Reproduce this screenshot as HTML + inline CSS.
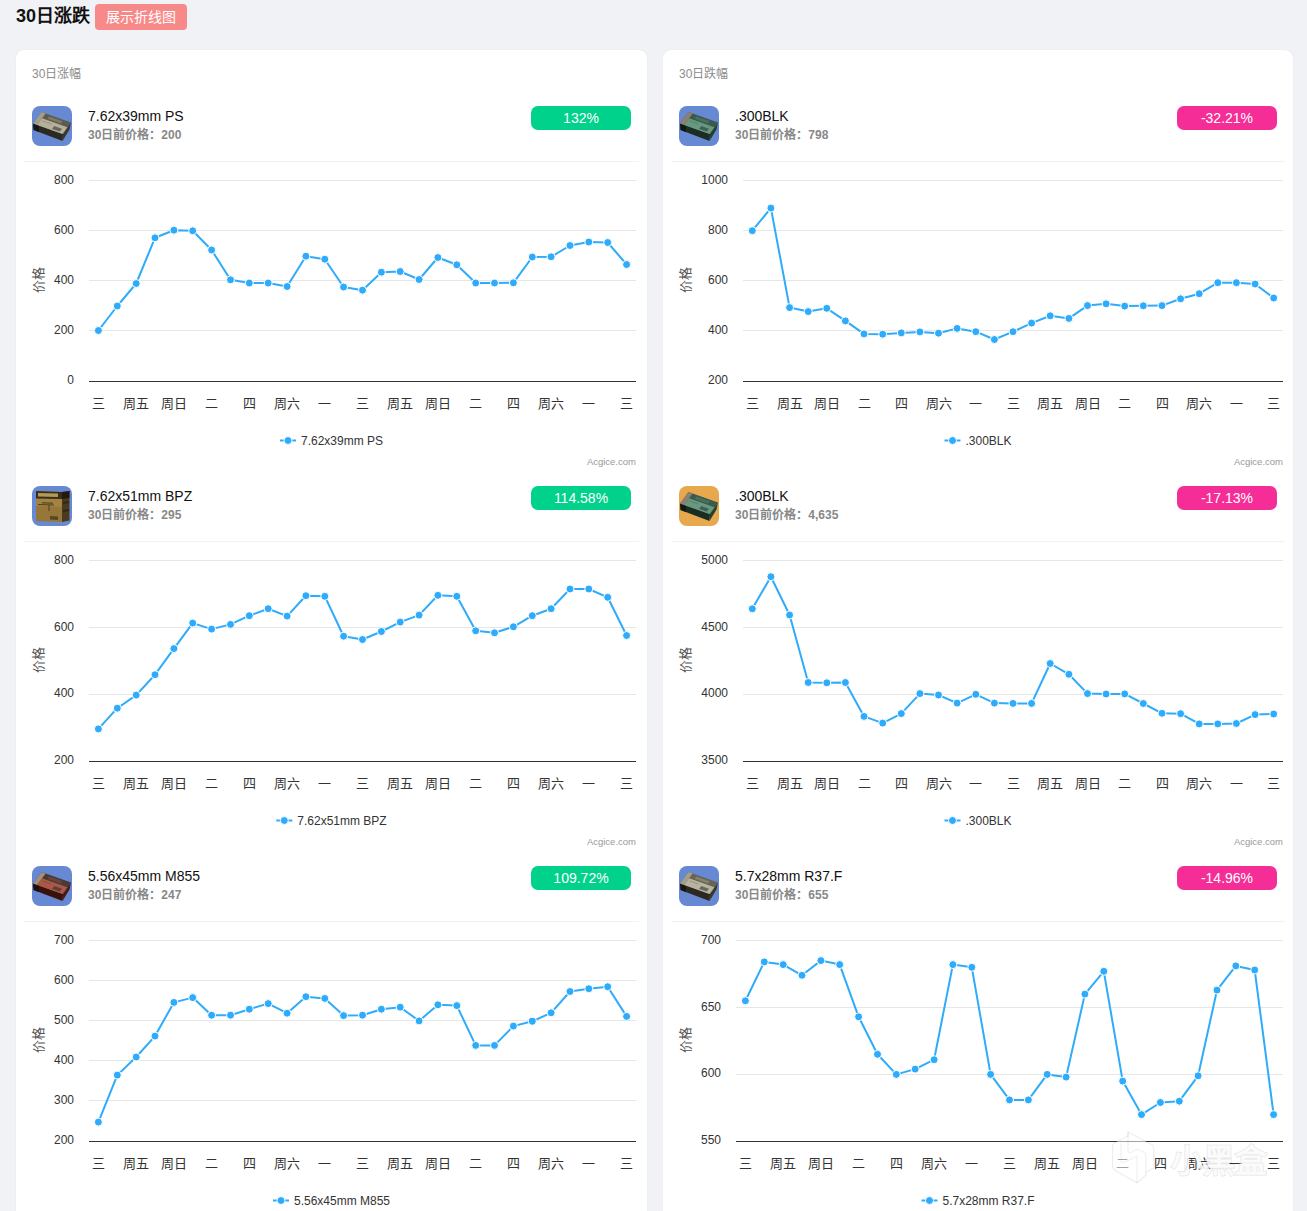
<!DOCTYPE html>
<html lang="zh-CN"><head><meta charset="utf-8">
<style>
*{margin:0;padding:0;box-sizing:border-box}
html,body{width:1307px;height:1211px;overflow:hidden;background:#f0f2f5;font-family:"Liberation Sans", sans-serif}
.t{position:absolute;white-space:nowrap;line-height:1}
.card{position:absolute;top:50px;height:1300px;background:#fff;border-radius:8px;box-shadow:0 0 1px rgba(0,0,0,0.12)}
svg{position:absolute;left:0;top:0;overflow:visible}
</style></head><body>
<div class="t" style="left:16px;top:7px;font-size:18px;font-weight:bold;color:#111">30日涨跌</div>
<div style="position:absolute;left:95px;top:4px;width:92px;height:26px;border-radius:4px;background:#f78989;color:#fff;font-size:14px;line-height:26px;text-align:center">展示折线图</div>

<div class="card" style="left:16px;width:631px"></div>
<div class="t" style="left:32px;top:68px;font-size:12px;color:#8c8c8c">30日涨幅</div>
<div class="card" style="left:663px;width:630px"></div>
<div class="t" style="left:679px;top:68px;font-size:12px;color:#8c8c8c">30日跌幅</div>
<svg width="1307" height="1211" viewBox="0 0 1307 1211" style="font-family:'Liberation Sans', sans-serif">
<g transform="translate(32,106)"><rect x="0" y="0" width="40" height="40" rx="8" fill="#6789d3"/><path d="M9.5 6 L39 16.5 L31 28 L1 17.5 Z" fill="#5e5b4c"/><path d="M1 17.5 L31 28 L30.5 35 L1.5 24 Z" fill="#2c2a20"/><path d="M1 17.5 L7 19.6 L7 26.2 L1.5 24 Z" fill="#0e0c08" opacity="0.6"/><path d="M39 16.5 L31 28 L30.5 35 L37.5 23.5 Z" fill="#3a372b"/><path d="M9.5 6.0 L13.6 7.5 L5.1 19.0 L1.0 17.5 Z" fill="#a9a690" opacity="0.9"/><path d="M10.1 12.3 L35.4 21.3 L30.5 28.0 L5.1 19.0 Z" fill="#b9b4a0" opacity="0.95"/><path d="M17.3 10.5 L30.6 15.3 L28.9 17.6 L15.6 12.8 Z" fill="#b9b4a0" opacity="0.35"/><path d="M22.2 20.1 L29.9 22.8 L27.8 25.6 L20.1 22.9 Z" fill="#4a473a" opacity="0.7"/><path d="M10.7 14.4 L19.6 17.6 L19.0 18.4 L10.1 15.2 Z" fill="#4a473a" opacity="0.25"/></g>
<rect x="24" y="161" width="615" height="1" fill="#f2f2f2"/>
<rect x="531" y="106" width="100" height="24" rx="7" fill="#00d18b"/>
<text x="581" y="123" font-size="14" fill="#fff" text-anchor="middle">132%</text>
<text x="88" y="120.5" font-size="14" fill="#111">7.62x39mm PS</text>
<text x="88" y="139" font-size="12" font-weight="bold" fill="#888">30日前价格：200</text>
<rect x="89" y="180" width="547" height="1" fill="#e6e6e6"/>
<rect x="89" y="230" width="547" height="1" fill="#e6e6e6"/>
<rect x="89" y="280" width="547" height="1" fill="#e6e6e6"/>
<rect x="89" y="330" width="547" height="1" fill="#e6e6e6"/>
<rect x="89" y="381" width="547" height="1" fill="#333"/>
<text x="74" y="383.8" font-size="12" fill="#333" text-anchor="end">0</text>
<text x="74" y="333.8" font-size="12" fill="#333" text-anchor="end">200</text>
<text x="74" y="283.8" font-size="12" fill="#333" text-anchor="end">400</text>
<text x="74" y="233.8" font-size="12" fill="#333" text-anchor="end">600</text>
<text x="74" y="183.8" font-size="12" fill="#333" text-anchor="end">800</text>
<text x="98.4" y="407.5" font-size="13" fill="#333" text-anchor="middle">三</text>
<text x="136.2" y="407.5" font-size="13" fill="#333" text-anchor="middle">周五</text>
<text x="173.9" y="407.5" font-size="13" fill="#333" text-anchor="middle">周日</text>
<text x="211.6" y="407.5" font-size="13" fill="#333" text-anchor="middle">二</text>
<text x="249.3" y="407.5" font-size="13" fill="#333" text-anchor="middle">四</text>
<text x="287.1" y="407.5" font-size="13" fill="#333" text-anchor="middle">周六</text>
<text x="324.8" y="407.5" font-size="13" fill="#333" text-anchor="middle">一</text>
<text x="362.5" y="407.5" font-size="13" fill="#333" text-anchor="middle">三</text>
<text x="400.2" y="407.5" font-size="13" fill="#333" text-anchor="middle">周五</text>
<text x="437.9" y="407.5" font-size="13" fill="#333" text-anchor="middle">周日</text>
<text x="475.7" y="407.5" font-size="13" fill="#333" text-anchor="middle">二</text>
<text x="513.4" y="407.5" font-size="13" fill="#333" text-anchor="middle">四</text>
<text x="551.1" y="407.5" font-size="13" fill="#333" text-anchor="middle">周六</text>
<text x="588.8" y="407.5" font-size="13" fill="#333" text-anchor="middle">一</text>
<text x="626.6" y="407.5" font-size="13" fill="#333" text-anchor="middle">三</text>
<text x="0" y="0" font-size="13" fill="#555" text-anchor="middle" transform="translate(42.8,280) rotate(-90)">价格</text>
<polyline fill="none" stroke="#2eabfb" stroke-width="2" stroke-linejoin="round" points="98.4,330.5 117.3,306.0 136.2,283.5 155.0,237.8 173.9,230.2 192.7,230.8 211.6,250.0 230.5,279.8 249.3,283.0 268.2,283.0 287.1,286.5 305.9,256.2 324.8,259.2 343.6,287.0 362.5,290.2 381.4,272.2 400.2,271.5 419.1,279.5 437.9,257.5 456.8,264.8 475.7,283.0 494.5,283.0 513.4,282.8 532.3,257.0 551.1,256.8 570.0,245.5 588.8,242.0 607.7,242.5 626.6,264.5"/>
<circle cx="98.4" cy="330.5" r="4" fill="#2eabfb" stroke="#fff" stroke-width="1"/>
<circle cx="117.3" cy="306.0" r="4" fill="#2eabfb" stroke="#fff" stroke-width="1"/>
<circle cx="136.2" cy="283.5" r="4" fill="#2eabfb" stroke="#fff" stroke-width="1"/>
<circle cx="155.0" cy="237.8" r="4" fill="#2eabfb" stroke="#fff" stroke-width="1"/>
<circle cx="173.9" cy="230.2" r="4" fill="#2eabfb" stroke="#fff" stroke-width="1"/>
<circle cx="192.7" cy="230.8" r="4" fill="#2eabfb" stroke="#fff" stroke-width="1"/>
<circle cx="211.6" cy="250.0" r="4" fill="#2eabfb" stroke="#fff" stroke-width="1"/>
<circle cx="230.5" cy="279.8" r="4" fill="#2eabfb" stroke="#fff" stroke-width="1"/>
<circle cx="249.3" cy="283.0" r="4" fill="#2eabfb" stroke="#fff" stroke-width="1"/>
<circle cx="268.2" cy="283.0" r="4" fill="#2eabfb" stroke="#fff" stroke-width="1"/>
<circle cx="287.1" cy="286.5" r="4" fill="#2eabfb" stroke="#fff" stroke-width="1"/>
<circle cx="305.9" cy="256.2" r="4" fill="#2eabfb" stroke="#fff" stroke-width="1"/>
<circle cx="324.8" cy="259.2" r="4" fill="#2eabfb" stroke="#fff" stroke-width="1"/>
<circle cx="343.6" cy="287.0" r="4" fill="#2eabfb" stroke="#fff" stroke-width="1"/>
<circle cx="362.5" cy="290.2" r="4" fill="#2eabfb" stroke="#fff" stroke-width="1"/>
<circle cx="381.4" cy="272.2" r="4" fill="#2eabfb" stroke="#fff" stroke-width="1"/>
<circle cx="400.2" cy="271.5" r="4" fill="#2eabfb" stroke="#fff" stroke-width="1"/>
<circle cx="419.1" cy="279.5" r="4" fill="#2eabfb" stroke="#fff" stroke-width="1"/>
<circle cx="437.9" cy="257.5" r="4" fill="#2eabfb" stroke="#fff" stroke-width="1"/>
<circle cx="456.8" cy="264.8" r="4" fill="#2eabfb" stroke="#fff" stroke-width="1"/>
<circle cx="475.7" cy="283.0" r="4" fill="#2eabfb" stroke="#fff" stroke-width="1"/>
<circle cx="494.5" cy="283.0" r="4" fill="#2eabfb" stroke="#fff" stroke-width="1"/>
<circle cx="513.4" cy="282.8" r="4" fill="#2eabfb" stroke="#fff" stroke-width="1"/>
<circle cx="532.3" cy="257.0" r="4" fill="#2eabfb" stroke="#fff" stroke-width="1"/>
<circle cx="551.1" cy="256.8" r="4" fill="#2eabfb" stroke="#fff" stroke-width="1"/>
<circle cx="570.0" cy="245.5" r="4" fill="#2eabfb" stroke="#fff" stroke-width="1"/>
<circle cx="588.8" cy="242.0" r="4" fill="#2eabfb" stroke="#fff" stroke-width="1"/>
<circle cx="607.7" cy="242.5" r="4" fill="#2eabfb" stroke="#fff" stroke-width="1"/>
<circle cx="626.6" cy="264.5" r="4" fill="#2eabfb" stroke="#fff" stroke-width="1"/>
<g transform="translate(280.0,440.5)"><rect x="0" y="-1" width="16" height="2" fill="#2eabfb"/><circle cx="8" cy="0" r="4" fill="#2eabfb" stroke="#fff" stroke-width="1"/><text x="21" y="4.3" font-size="12" fill="#333">7.62x39mm PS</text></g>
<text x="636" y="465" font-size="9.5" fill="#999" text-anchor="end">Acgice.com</text>
<g transform="translate(32,486)"><rect x="0" y="0" width="40" height="40" rx="8" fill="#6789d3"/><path d="M4 5 L30 6 L30 36 L4 35 Z" fill="#a3833f"/><path d="M4 20 L30 21 L30 36 L4 35 Z" fill="#8f7035" opacity="0.6"/><path d="M30 6 L37.5 5 L37.5 34.5 L30 36 Z" fill="#4a3a1e"/><path d="M4 5 L30 6 L30 13 L4 12.5 Z" fill="#3a2e1a"/><path d="M37.5 5 L30 6 L30 13 L37.5 12 Z" fill="#221a0e"/><path d="M6 7 L26 7.5 L26 11 L6 10.5 Z" fill="#b39a55"/><path d="M6 18 L22 18.5 L22 19.5 L6 19 Z" fill="#3a3020" opacity="0.8"/><path d="M10 16 L21 16.5 L21 18 L10 17.5 Z" fill="#4a3c26" opacity="0.7"/><path d="M16.5 19 L17.5 19 L17.5 25 L16.5 25 Z" fill="#3a3020" opacity="0.8"/><path d="M18 30 L26 30.5 L26 34 L18 33.5 Z" fill="#4a3a22" opacity="0.8"/><path d="M31 16 L37 15 L37 17 L31 18 Z M31 24 L37 23 L37 25 L31 26 Z" fill="#2a2010" opacity="0.7"/></g>
<rect x="24" y="541" width="615" height="1" fill="#f2f2f2"/>
<rect x="531" y="486" width="100" height="24" rx="7" fill="#00d18b"/>
<text x="581" y="503" font-size="14" fill="#fff" text-anchor="middle">114.58%</text>
<text x="88" y="500.5" font-size="14" fill="#111">7.62x51mm BPZ</text>
<text x="88" y="519" font-size="12" font-weight="bold" fill="#888">30日前价格：295</text>
<rect x="89" y="560" width="547" height="1" fill="#e6e6e6"/>
<rect x="89" y="627" width="547" height="1" fill="#e6e6e6"/>
<rect x="89" y="694" width="547" height="1" fill="#e6e6e6"/>
<rect x="89" y="761" width="547" height="1" fill="#333"/>
<text x="74" y="763.8" font-size="12" fill="#333" text-anchor="end">200</text>
<text x="74" y="697.1" font-size="12" fill="#333" text-anchor="end">400</text>
<text x="74" y="630.5" font-size="12" fill="#333" text-anchor="end">600</text>
<text x="74" y="563.8" font-size="12" fill="#333" text-anchor="end">800</text>
<text x="98.4" y="787.5" font-size="13" fill="#333" text-anchor="middle">三</text>
<text x="136.2" y="787.5" font-size="13" fill="#333" text-anchor="middle">周五</text>
<text x="173.9" y="787.5" font-size="13" fill="#333" text-anchor="middle">周日</text>
<text x="211.6" y="787.5" font-size="13" fill="#333" text-anchor="middle">二</text>
<text x="249.3" y="787.5" font-size="13" fill="#333" text-anchor="middle">四</text>
<text x="287.1" y="787.5" font-size="13" fill="#333" text-anchor="middle">周六</text>
<text x="324.8" y="787.5" font-size="13" fill="#333" text-anchor="middle">一</text>
<text x="362.5" y="787.5" font-size="13" fill="#333" text-anchor="middle">三</text>
<text x="400.2" y="787.5" font-size="13" fill="#333" text-anchor="middle">周五</text>
<text x="437.9" y="787.5" font-size="13" fill="#333" text-anchor="middle">周日</text>
<text x="475.7" y="787.5" font-size="13" fill="#333" text-anchor="middle">二</text>
<text x="513.4" y="787.5" font-size="13" fill="#333" text-anchor="middle">四</text>
<text x="551.1" y="787.5" font-size="13" fill="#333" text-anchor="middle">周六</text>
<text x="588.8" y="787.5" font-size="13" fill="#333" text-anchor="middle">一</text>
<text x="626.6" y="787.5" font-size="13" fill="#333" text-anchor="middle">三</text>
<text x="0" y="0" font-size="13" fill="#555" text-anchor="middle" transform="translate(42.8,660) rotate(-90)">价格</text>
<polyline fill="none" stroke="#2eabfb" stroke-width="2" stroke-linejoin="round" points="98.4,728.9 117.3,708.2 136.2,695.1 155.0,674.7 173.9,648.6 192.7,623.1 211.6,629.1 230.5,624.4 249.3,615.7 268.2,608.7 287.1,616.1 305.9,595.7 324.8,596.3 343.6,636.2 362.5,639.5 381.4,631.5 400.2,622.1 419.1,615.1 437.9,595.3 456.8,596.3 475.7,630.8 494.5,632.8 513.4,626.8 532.3,615.7 551.1,608.7 570.0,589.0 588.8,589.0 607.7,597.3 626.6,635.5"/>
<circle cx="98.4" cy="728.9" r="4" fill="#2eabfb" stroke="#fff" stroke-width="1"/>
<circle cx="117.3" cy="708.2" r="4" fill="#2eabfb" stroke="#fff" stroke-width="1"/>
<circle cx="136.2" cy="695.1" r="4" fill="#2eabfb" stroke="#fff" stroke-width="1"/>
<circle cx="155.0" cy="674.7" r="4" fill="#2eabfb" stroke="#fff" stroke-width="1"/>
<circle cx="173.9" cy="648.6" r="4" fill="#2eabfb" stroke="#fff" stroke-width="1"/>
<circle cx="192.7" cy="623.1" r="4" fill="#2eabfb" stroke="#fff" stroke-width="1"/>
<circle cx="211.6" cy="629.1" r="4" fill="#2eabfb" stroke="#fff" stroke-width="1"/>
<circle cx="230.5" cy="624.4" r="4" fill="#2eabfb" stroke="#fff" stroke-width="1"/>
<circle cx="249.3" cy="615.7" r="4" fill="#2eabfb" stroke="#fff" stroke-width="1"/>
<circle cx="268.2" cy="608.7" r="4" fill="#2eabfb" stroke="#fff" stroke-width="1"/>
<circle cx="287.1" cy="616.1" r="4" fill="#2eabfb" stroke="#fff" stroke-width="1"/>
<circle cx="305.9" cy="595.7" r="4" fill="#2eabfb" stroke="#fff" stroke-width="1"/>
<circle cx="324.8" cy="596.3" r="4" fill="#2eabfb" stroke="#fff" stroke-width="1"/>
<circle cx="343.6" cy="636.2" r="4" fill="#2eabfb" stroke="#fff" stroke-width="1"/>
<circle cx="362.5" cy="639.5" r="4" fill="#2eabfb" stroke="#fff" stroke-width="1"/>
<circle cx="381.4" cy="631.5" r="4" fill="#2eabfb" stroke="#fff" stroke-width="1"/>
<circle cx="400.2" cy="622.1" r="4" fill="#2eabfb" stroke="#fff" stroke-width="1"/>
<circle cx="419.1" cy="615.1" r="4" fill="#2eabfb" stroke="#fff" stroke-width="1"/>
<circle cx="437.9" cy="595.3" r="4" fill="#2eabfb" stroke="#fff" stroke-width="1"/>
<circle cx="456.8" cy="596.3" r="4" fill="#2eabfb" stroke="#fff" stroke-width="1"/>
<circle cx="475.7" cy="630.8" r="4" fill="#2eabfb" stroke="#fff" stroke-width="1"/>
<circle cx="494.5" cy="632.8" r="4" fill="#2eabfb" stroke="#fff" stroke-width="1"/>
<circle cx="513.4" cy="626.8" r="4" fill="#2eabfb" stroke="#fff" stroke-width="1"/>
<circle cx="532.3" cy="615.7" r="4" fill="#2eabfb" stroke="#fff" stroke-width="1"/>
<circle cx="551.1" cy="608.7" r="4" fill="#2eabfb" stroke="#fff" stroke-width="1"/>
<circle cx="570.0" cy="589.0" r="4" fill="#2eabfb" stroke="#fff" stroke-width="1"/>
<circle cx="588.8" cy="589.0" r="4" fill="#2eabfb" stroke="#fff" stroke-width="1"/>
<circle cx="607.7" cy="597.3" r="4" fill="#2eabfb" stroke="#fff" stroke-width="1"/>
<circle cx="626.6" cy="635.5" r="4" fill="#2eabfb" stroke="#fff" stroke-width="1"/>
<g transform="translate(276.3,820.5)"><rect x="0" y="-1" width="16" height="2" fill="#2eabfb"/><circle cx="8" cy="0" r="4" fill="#2eabfb" stroke="#fff" stroke-width="1"/><text x="21" y="4.3" font-size="12" fill="#333">7.62x51mm BPZ</text></g>
<text x="636" y="845" font-size="9.5" fill="#999" text-anchor="end">Acgice.com</text>
<g transform="translate(32,866)"><rect x="0" y="0" width="40" height="40" rx="8" fill="#6789d3"/><path d="M9.5 6 L39 16.5 L31 28 L1 17.5 Z" fill="#4a3a34"/><path d="M1 17.5 L31 28 L30.5 35 L1.5 24 Z" fill="#3a120c"/><path d="M1 17.5 L7 19.6 L7 26.2 L1.5 24 Z" fill="#0e0c08" opacity="0.6"/><path d="M39 16.5 L31 28 L30.5 35 L37.5 23.5 Z" fill="#4a1a12"/><path d="M9.5 6.0 L13.6 7.5 L5.1 19.0 L1.0 17.5 Z" fill="#a89a86" opacity="0.9"/><path d="M10.1 12.3 L35.4 21.3 L30.5 28.0 L5.1 19.0 Z" fill="#b05a48" opacity="0.95"/><path d="M17.3 10.5 L30.6 15.3 L28.9 17.6 L15.6 12.8 Z" fill="#b05a48" opacity="0.35"/><path d="M22.2 20.1 L29.9 22.8 L27.8 25.6 L20.1 22.9 Z" fill="#3a3430" opacity="0.7"/><path d="M10.7 14.4 L19.6 17.6 L19.0 18.4 L10.1 15.2 Z" fill="#3a3430" opacity="0.25"/></g>
<rect x="24" y="921" width="615" height="1" fill="#f2f2f2"/>
<rect x="531" y="866" width="100" height="24" rx="7" fill="#00d18b"/>
<text x="581" y="883" font-size="14" fill="#fff" text-anchor="middle">109.72%</text>
<text x="88" y="880.5" font-size="14" fill="#111">5.56x45mm M855</text>
<text x="88" y="899" font-size="12" font-weight="bold" fill="#888">30日前价格：247</text>
<rect x="89" y="940" width="547" height="1" fill="#e6e6e6"/>
<rect x="89" y="980" width="547" height="1" fill="#e6e6e6"/>
<rect x="89" y="1020" width="547" height="1" fill="#e6e6e6"/>
<rect x="89" y="1060" width="547" height="1" fill="#e6e6e6"/>
<rect x="89" y="1100" width="547" height="1" fill="#e6e6e6"/>
<rect x="89" y="1141" width="547" height="1" fill="#333"/>
<text x="74" y="1143.8" font-size="12" fill="#333" text-anchor="end">200</text>
<text x="74" y="1103.8" font-size="12" fill="#333" text-anchor="end">300</text>
<text x="74" y="1063.8" font-size="12" fill="#333" text-anchor="end">400</text>
<text x="74" y="1023.8" font-size="12" fill="#333" text-anchor="end">500</text>
<text x="74" y="983.8" font-size="12" fill="#333" text-anchor="end">600</text>
<text x="74" y="943.8" font-size="12" fill="#333" text-anchor="end">700</text>
<text x="98.4" y="1167.5" font-size="13" fill="#333" text-anchor="middle">三</text>
<text x="136.2" y="1167.5" font-size="13" fill="#333" text-anchor="middle">周五</text>
<text x="173.9" y="1167.5" font-size="13" fill="#333" text-anchor="middle">周日</text>
<text x="211.6" y="1167.5" font-size="13" fill="#333" text-anchor="middle">二</text>
<text x="249.3" y="1167.5" font-size="13" fill="#333" text-anchor="middle">四</text>
<text x="287.1" y="1167.5" font-size="13" fill="#333" text-anchor="middle">周六</text>
<text x="324.8" y="1167.5" font-size="13" fill="#333" text-anchor="middle">一</text>
<text x="362.5" y="1167.5" font-size="13" fill="#333" text-anchor="middle">三</text>
<text x="400.2" y="1167.5" font-size="13" fill="#333" text-anchor="middle">周五</text>
<text x="437.9" y="1167.5" font-size="13" fill="#333" text-anchor="middle">周日</text>
<text x="475.7" y="1167.5" font-size="13" fill="#333" text-anchor="middle">二</text>
<text x="513.4" y="1167.5" font-size="13" fill="#333" text-anchor="middle">四</text>
<text x="551.1" y="1167.5" font-size="13" fill="#333" text-anchor="middle">周六</text>
<text x="588.8" y="1167.5" font-size="13" fill="#333" text-anchor="middle">一</text>
<text x="626.6" y="1167.5" font-size="13" fill="#333" text-anchor="middle">三</text>
<text x="0" y="0" font-size="13" fill="#555" text-anchor="middle" transform="translate(42.8,1040) rotate(-90)">价格</text>
<polyline fill="none" stroke="#2eabfb" stroke-width="2" stroke-linejoin="round" points="98.4,1122.1 117.3,1075.1 136.2,1057.0 155.0,1036.1 173.9,1002.4 192.7,997.6 211.6,1015.2 230.5,1015.2 249.3,1009.2 268.2,1003.6 287.1,1013.2 305.9,996.7 324.8,998.4 343.6,1015.6 362.5,1015.2 381.4,1009.2 400.2,1007.2 419.1,1020.9 437.9,1004.8 456.8,1005.6 475.7,1045.4 494.5,1045.4 513.4,1026.1 532.3,1021.3 551.1,1012.8 570.0,991.5 588.8,988.7 607.7,986.7 626.6,1016.4"/>
<circle cx="98.4" cy="1122.1" r="4" fill="#2eabfb" stroke="#fff" stroke-width="1"/>
<circle cx="117.3" cy="1075.1" r="4" fill="#2eabfb" stroke="#fff" stroke-width="1"/>
<circle cx="136.2" cy="1057.0" r="4" fill="#2eabfb" stroke="#fff" stroke-width="1"/>
<circle cx="155.0" cy="1036.1" r="4" fill="#2eabfb" stroke="#fff" stroke-width="1"/>
<circle cx="173.9" cy="1002.4" r="4" fill="#2eabfb" stroke="#fff" stroke-width="1"/>
<circle cx="192.7" cy="997.6" r="4" fill="#2eabfb" stroke="#fff" stroke-width="1"/>
<circle cx="211.6" cy="1015.2" r="4" fill="#2eabfb" stroke="#fff" stroke-width="1"/>
<circle cx="230.5" cy="1015.2" r="4" fill="#2eabfb" stroke="#fff" stroke-width="1"/>
<circle cx="249.3" cy="1009.2" r="4" fill="#2eabfb" stroke="#fff" stroke-width="1"/>
<circle cx="268.2" cy="1003.6" r="4" fill="#2eabfb" stroke="#fff" stroke-width="1"/>
<circle cx="287.1" cy="1013.2" r="4" fill="#2eabfb" stroke="#fff" stroke-width="1"/>
<circle cx="305.9" cy="996.7" r="4" fill="#2eabfb" stroke="#fff" stroke-width="1"/>
<circle cx="324.8" cy="998.4" r="4" fill="#2eabfb" stroke="#fff" stroke-width="1"/>
<circle cx="343.6" cy="1015.6" r="4" fill="#2eabfb" stroke="#fff" stroke-width="1"/>
<circle cx="362.5" cy="1015.2" r="4" fill="#2eabfb" stroke="#fff" stroke-width="1"/>
<circle cx="381.4" cy="1009.2" r="4" fill="#2eabfb" stroke="#fff" stroke-width="1"/>
<circle cx="400.2" cy="1007.2" r="4" fill="#2eabfb" stroke="#fff" stroke-width="1"/>
<circle cx="419.1" cy="1020.9" r="4" fill="#2eabfb" stroke="#fff" stroke-width="1"/>
<circle cx="437.9" cy="1004.8" r="4" fill="#2eabfb" stroke="#fff" stroke-width="1"/>
<circle cx="456.8" cy="1005.6" r="4" fill="#2eabfb" stroke="#fff" stroke-width="1"/>
<circle cx="475.7" cy="1045.4" r="4" fill="#2eabfb" stroke="#fff" stroke-width="1"/>
<circle cx="494.5" cy="1045.4" r="4" fill="#2eabfb" stroke="#fff" stroke-width="1"/>
<circle cx="513.4" cy="1026.1" r="4" fill="#2eabfb" stroke="#fff" stroke-width="1"/>
<circle cx="532.3" cy="1021.3" r="4" fill="#2eabfb" stroke="#fff" stroke-width="1"/>
<circle cx="551.1" cy="1012.8" r="4" fill="#2eabfb" stroke="#fff" stroke-width="1"/>
<circle cx="570.0" cy="991.5" r="4" fill="#2eabfb" stroke="#fff" stroke-width="1"/>
<circle cx="588.8" cy="988.7" r="4" fill="#2eabfb" stroke="#fff" stroke-width="1"/>
<circle cx="607.7" cy="986.7" r="4" fill="#2eabfb" stroke="#fff" stroke-width="1"/>
<circle cx="626.6" cy="1016.4" r="4" fill="#2eabfb" stroke="#fff" stroke-width="1"/>
<g transform="translate(273.0,1200.5)"><rect x="0" y="-1" width="16" height="2" fill="#2eabfb"/><circle cx="8" cy="0" r="4" fill="#2eabfb" stroke="#fff" stroke-width="1"/><text x="21" y="4.3" font-size="12" fill="#333">5.56x45mm M855</text></g>
<text x="636" y="1225" font-size="9.5" fill="#999" text-anchor="end">Acgice.com</text>
<g transform="translate(679,106)"><rect x="0" y="0" width="40" height="40" rx="8" fill="#6789d3"/><path d="M9.5 6 L39 16.5 L31 28 L1 17.5 Z" fill="#3a5a4e"/><path d="M1 17.5 L31 28 L30.5 35 L1.5 24 Z" fill="#1a2e24"/><path d="M1 17.5 L7 19.6 L7 26.2 L1.5 24 Z" fill="#0e0c08" opacity="0.6"/><path d="M39 16.5 L31 28 L30.5 35 L37.5 23.5 Z" fill="#22402f"/><path d="M9.5 6.0 L13.6 7.5 L5.1 19.0 L1.0 17.5 Z" fill="#9a8272" opacity="0.9"/><path d="M10.1 12.3 L35.4 21.3 L30.5 28.0 L5.1 19.0 Z" fill="#6c9c84" opacity="0.95"/><path d="M17.3 10.5 L30.6 15.3 L28.9 17.6 L15.6 12.8 Z" fill="#6c9c84" opacity="0.35"/><path d="M22.2 20.1 L29.9 22.8 L27.8 25.6 L20.1 22.9 Z" fill="#2e4a40" opacity="0.7"/><path d="M10.7 14.4 L19.6 17.6 L19.0 18.4 L10.1 15.2 Z" fill="#2e4a40" opacity="0.25"/></g>
<rect x="671" y="161" width="614" height="1" fill="#f2f2f2"/>
<rect x="1177" y="106" width="100" height="24" rx="7" fill="#f52d97"/>
<text x="1227" y="123" font-size="14" fill="#fff" text-anchor="middle">-32.21%</text>
<text x="735" y="120.5" font-size="14" fill="#111">.300BLK</text>
<text x="735" y="139" font-size="12" font-weight="bold" fill="#888">30日前价格：798</text>
<rect x="743" y="180" width="540" height="1" fill="#e6e6e6"/>
<rect x="743" y="230" width="540" height="1" fill="#e6e6e6"/>
<rect x="743" y="280" width="540" height="1" fill="#e6e6e6"/>
<rect x="743" y="330" width="540" height="1" fill="#e6e6e6"/>
<rect x="743" y="381" width="540" height="1" fill="#333"/>
<text x="728" y="383.8" font-size="12" fill="#333" text-anchor="end">200</text>
<text x="728" y="333.8" font-size="12" fill="#333" text-anchor="end">400</text>
<text x="728" y="283.8" font-size="12" fill="#333" text-anchor="end">600</text>
<text x="728" y="233.8" font-size="12" fill="#333" text-anchor="end">800</text>
<text x="728" y="183.8" font-size="12" fill="#333" text-anchor="end">1000</text>
<text x="752.3" y="407.5" font-size="13" fill="#333" text-anchor="middle">三</text>
<text x="789.6" y="407.5" font-size="13" fill="#333" text-anchor="middle">周五</text>
<text x="826.8" y="407.5" font-size="13" fill="#333" text-anchor="middle">周日</text>
<text x="864.0" y="407.5" font-size="13" fill="#333" text-anchor="middle">二</text>
<text x="901.3" y="407.5" font-size="13" fill="#333" text-anchor="middle">四</text>
<text x="938.5" y="407.5" font-size="13" fill="#333" text-anchor="middle">周六</text>
<text x="975.8" y="407.5" font-size="13" fill="#333" text-anchor="middle">一</text>
<text x="1013.0" y="407.5" font-size="13" fill="#333" text-anchor="middle">三</text>
<text x="1050.2" y="407.5" font-size="13" fill="#333" text-anchor="middle">周五</text>
<text x="1087.5" y="407.5" font-size="13" fill="#333" text-anchor="middle">周日</text>
<text x="1124.7" y="407.5" font-size="13" fill="#333" text-anchor="middle">二</text>
<text x="1162.0" y="407.5" font-size="13" fill="#333" text-anchor="middle">四</text>
<text x="1199.2" y="407.5" font-size="13" fill="#333" text-anchor="middle">周六</text>
<text x="1236.4" y="407.5" font-size="13" fill="#333" text-anchor="middle">一</text>
<text x="1273.7" y="407.5" font-size="13" fill="#333" text-anchor="middle">三</text>
<text x="0" y="0" font-size="13" fill="#555" text-anchor="middle" transform="translate(689.8,280) rotate(-90)">价格</text>
<polyline fill="none" stroke="#2eabfb" stroke-width="2" stroke-linejoin="round" points="752.3,230.7 770.9,208.1 789.6,307.6 808.2,311.6 826.8,308.3 845.4,320.9 864.0,333.9 882.7,334.2 901.3,332.9 919.9,331.9 938.5,333.2 957.1,328.4 975.8,331.7 994.4,339.5 1013.0,331.7 1031.6,323.1 1050.2,315.8 1068.9,318.4 1087.5,305.6 1106.1,303.8 1124.7,306.1 1143.3,305.8 1162.0,305.6 1180.6,298.8 1199.2,293.7 1217.8,282.7 1236.4,282.7 1255.1,284.0 1273.7,298.0"/>
<circle cx="752.3" cy="230.7" r="4" fill="#2eabfb" stroke="#fff" stroke-width="1"/>
<circle cx="770.9" cy="208.1" r="4" fill="#2eabfb" stroke="#fff" stroke-width="1"/>
<circle cx="789.6" cy="307.6" r="4" fill="#2eabfb" stroke="#fff" stroke-width="1"/>
<circle cx="808.2" cy="311.6" r="4" fill="#2eabfb" stroke="#fff" stroke-width="1"/>
<circle cx="826.8" cy="308.3" r="4" fill="#2eabfb" stroke="#fff" stroke-width="1"/>
<circle cx="845.4" cy="320.9" r="4" fill="#2eabfb" stroke="#fff" stroke-width="1"/>
<circle cx="864.0" cy="333.9" r="4" fill="#2eabfb" stroke="#fff" stroke-width="1"/>
<circle cx="882.7" cy="334.2" r="4" fill="#2eabfb" stroke="#fff" stroke-width="1"/>
<circle cx="901.3" cy="332.9" r="4" fill="#2eabfb" stroke="#fff" stroke-width="1"/>
<circle cx="919.9" cy="331.9" r="4" fill="#2eabfb" stroke="#fff" stroke-width="1"/>
<circle cx="938.5" cy="333.2" r="4" fill="#2eabfb" stroke="#fff" stroke-width="1"/>
<circle cx="957.1" cy="328.4" r="4" fill="#2eabfb" stroke="#fff" stroke-width="1"/>
<circle cx="975.8" cy="331.7" r="4" fill="#2eabfb" stroke="#fff" stroke-width="1"/>
<circle cx="994.4" cy="339.5" r="4" fill="#2eabfb" stroke="#fff" stroke-width="1"/>
<circle cx="1013.0" cy="331.7" r="4" fill="#2eabfb" stroke="#fff" stroke-width="1"/>
<circle cx="1031.6" cy="323.1" r="4" fill="#2eabfb" stroke="#fff" stroke-width="1"/>
<circle cx="1050.2" cy="315.8" r="4" fill="#2eabfb" stroke="#fff" stroke-width="1"/>
<circle cx="1068.9" cy="318.4" r="4" fill="#2eabfb" stroke="#fff" stroke-width="1"/>
<circle cx="1087.5" cy="305.6" r="4" fill="#2eabfb" stroke="#fff" stroke-width="1"/>
<circle cx="1106.1" cy="303.8" r="4" fill="#2eabfb" stroke="#fff" stroke-width="1"/>
<circle cx="1124.7" cy="306.1" r="4" fill="#2eabfb" stroke="#fff" stroke-width="1"/>
<circle cx="1143.3" cy="305.8" r="4" fill="#2eabfb" stroke="#fff" stroke-width="1"/>
<circle cx="1162.0" cy="305.6" r="4" fill="#2eabfb" stroke="#fff" stroke-width="1"/>
<circle cx="1180.6" cy="298.8" r="4" fill="#2eabfb" stroke="#fff" stroke-width="1"/>
<circle cx="1199.2" cy="293.7" r="4" fill="#2eabfb" stroke="#fff" stroke-width="1"/>
<circle cx="1217.8" cy="282.7" r="4" fill="#2eabfb" stroke="#fff" stroke-width="1"/>
<circle cx="1236.4" cy="282.7" r="4" fill="#2eabfb" stroke="#fff" stroke-width="1"/>
<circle cx="1255.1" cy="284.0" r="4" fill="#2eabfb" stroke="#fff" stroke-width="1"/>
<circle cx="1273.7" cy="298.0" r="4" fill="#2eabfb" stroke="#fff" stroke-width="1"/>
<g transform="translate(944.5,440.5)"><rect x="0" y="-1" width="16" height="2" fill="#2eabfb"/><circle cx="8" cy="0" r="4" fill="#2eabfb" stroke="#fff" stroke-width="1"/><text x="21" y="4.3" font-size="12" fill="#333">.300BLK</text></g>
<text x="1283" y="465" font-size="9.5" fill="#999" text-anchor="end">Acgice.com</text>
<g transform="translate(679,486)"><rect x="0" y="0" width="40" height="40" rx="8" fill="#e8a84e"/><path d="M9.5 6 L39 16.5 L31 28 L1 17.5 Z" fill="#3a5a4e"/><path d="M1 17.5 L31 28 L30.5 35 L1.5 24 Z" fill="#1a2e24"/><path d="M1 17.5 L7 19.6 L7 26.2 L1.5 24 Z" fill="#0e0c08" opacity="0.6"/><path d="M39 16.5 L31 28 L30.5 35 L37.5 23.5 Z" fill="#22402f"/><path d="M9.5 6.0 L13.6 7.5 L5.1 19.0 L1.0 17.5 Z" fill="#9a8272" opacity="0.9"/><path d="M10.1 12.3 L35.4 21.3 L30.5 28.0 L5.1 19.0 Z" fill="#6c9c84" opacity="0.95"/><path d="M17.3 10.5 L30.6 15.3 L28.9 17.6 L15.6 12.8 Z" fill="#6c9c84" opacity="0.35"/><path d="M22.2 20.1 L29.9 22.8 L27.8 25.6 L20.1 22.9 Z" fill="#2e4a40" opacity="0.7"/><path d="M10.7 14.4 L19.6 17.6 L19.0 18.4 L10.1 15.2 Z" fill="#2e4a40" opacity="0.25"/></g>
<rect x="671" y="541" width="614" height="1" fill="#f2f2f2"/>
<rect x="1177" y="486" width="100" height="24" rx="7" fill="#f52d97"/>
<text x="1227" y="503" font-size="14" fill="#fff" text-anchor="middle">-17.13%</text>
<text x="735" y="500.5" font-size="14" fill="#111">.300BLK</text>
<text x="735" y="519" font-size="12" font-weight="bold" fill="#888">30日前价格：4,635</text>
<rect x="743" y="560" width="540" height="1" fill="#e6e6e6"/>
<rect x="743" y="627" width="540" height="1" fill="#e6e6e6"/>
<rect x="743" y="694" width="540" height="1" fill="#e6e6e6"/>
<rect x="743" y="761" width="540" height="1" fill="#333"/>
<text x="728" y="763.8" font-size="12" fill="#333" text-anchor="end">3500</text>
<text x="728" y="697.1" font-size="12" fill="#333" text-anchor="end">4000</text>
<text x="728" y="630.5" font-size="12" fill="#333" text-anchor="end">4500</text>
<text x="728" y="563.8" font-size="12" fill="#333" text-anchor="end">5000</text>
<text x="752.3" y="787.5" font-size="13" fill="#333" text-anchor="middle">三</text>
<text x="789.6" y="787.5" font-size="13" fill="#333" text-anchor="middle">周五</text>
<text x="826.8" y="787.5" font-size="13" fill="#333" text-anchor="middle">周日</text>
<text x="864.0" y="787.5" font-size="13" fill="#333" text-anchor="middle">二</text>
<text x="901.3" y="787.5" font-size="13" fill="#333" text-anchor="middle">四</text>
<text x="938.5" y="787.5" font-size="13" fill="#333" text-anchor="middle">周六</text>
<text x="975.8" y="787.5" font-size="13" fill="#333" text-anchor="middle">一</text>
<text x="1013.0" y="787.5" font-size="13" fill="#333" text-anchor="middle">三</text>
<text x="1050.2" y="787.5" font-size="13" fill="#333" text-anchor="middle">周五</text>
<text x="1087.5" y="787.5" font-size="13" fill="#333" text-anchor="middle">周日</text>
<text x="1124.7" y="787.5" font-size="13" fill="#333" text-anchor="middle">二</text>
<text x="1162.0" y="787.5" font-size="13" fill="#333" text-anchor="middle">四</text>
<text x="1199.2" y="787.5" font-size="13" fill="#333" text-anchor="middle">周六</text>
<text x="1236.4" y="787.5" font-size="13" fill="#333" text-anchor="middle">一</text>
<text x="1273.7" y="787.5" font-size="13" fill="#333" text-anchor="middle">三</text>
<text x="0" y="0" font-size="13" fill="#555" text-anchor="middle" transform="translate(689.8,660) rotate(-90)">价格</text>
<polyline fill="none" stroke="#2eabfb" stroke-width="2" stroke-linejoin="round" points="752.3,608.8 770.9,576.7 789.6,615.0 808.2,682.5 826.8,682.8 845.4,682.5 864.0,716.4 882.7,723.1 901.3,713.6 919.9,693.6 938.5,695.0 957.1,703.1 975.8,694.3 994.4,703.1 1013.0,703.4 1031.6,703.4 1050.2,663.5 1068.9,674.3 1087.5,693.6 1106.1,694.0 1124.7,693.9 1143.3,703.5 1162.0,713.3 1180.6,713.7 1199.2,723.9 1217.8,723.9 1236.4,723.5 1255.1,714.6 1273.7,714.0"/>
<circle cx="752.3" cy="608.8" r="4" fill="#2eabfb" stroke="#fff" stroke-width="1"/>
<circle cx="770.9" cy="576.7" r="4" fill="#2eabfb" stroke="#fff" stroke-width="1"/>
<circle cx="789.6" cy="615.0" r="4" fill="#2eabfb" stroke="#fff" stroke-width="1"/>
<circle cx="808.2" cy="682.5" r="4" fill="#2eabfb" stroke="#fff" stroke-width="1"/>
<circle cx="826.8" cy="682.8" r="4" fill="#2eabfb" stroke="#fff" stroke-width="1"/>
<circle cx="845.4" cy="682.5" r="4" fill="#2eabfb" stroke="#fff" stroke-width="1"/>
<circle cx="864.0" cy="716.4" r="4" fill="#2eabfb" stroke="#fff" stroke-width="1"/>
<circle cx="882.7" cy="723.1" r="4" fill="#2eabfb" stroke="#fff" stroke-width="1"/>
<circle cx="901.3" cy="713.6" r="4" fill="#2eabfb" stroke="#fff" stroke-width="1"/>
<circle cx="919.9" cy="693.6" r="4" fill="#2eabfb" stroke="#fff" stroke-width="1"/>
<circle cx="938.5" cy="695.0" r="4" fill="#2eabfb" stroke="#fff" stroke-width="1"/>
<circle cx="957.1" cy="703.1" r="4" fill="#2eabfb" stroke="#fff" stroke-width="1"/>
<circle cx="975.8" cy="694.3" r="4" fill="#2eabfb" stroke="#fff" stroke-width="1"/>
<circle cx="994.4" cy="703.1" r="4" fill="#2eabfb" stroke="#fff" stroke-width="1"/>
<circle cx="1013.0" cy="703.4" r="4" fill="#2eabfb" stroke="#fff" stroke-width="1"/>
<circle cx="1031.6" cy="703.4" r="4" fill="#2eabfb" stroke="#fff" stroke-width="1"/>
<circle cx="1050.2" cy="663.5" r="4" fill="#2eabfb" stroke="#fff" stroke-width="1"/>
<circle cx="1068.9" cy="674.3" r="4" fill="#2eabfb" stroke="#fff" stroke-width="1"/>
<circle cx="1087.5" cy="693.6" r="4" fill="#2eabfb" stroke="#fff" stroke-width="1"/>
<circle cx="1106.1" cy="694.0" r="4" fill="#2eabfb" stroke="#fff" stroke-width="1"/>
<circle cx="1124.7" cy="693.9" r="4" fill="#2eabfb" stroke="#fff" stroke-width="1"/>
<circle cx="1143.3" cy="703.5" r="4" fill="#2eabfb" stroke="#fff" stroke-width="1"/>
<circle cx="1162.0" cy="713.3" r="4" fill="#2eabfb" stroke="#fff" stroke-width="1"/>
<circle cx="1180.6" cy="713.7" r="4" fill="#2eabfb" stroke="#fff" stroke-width="1"/>
<circle cx="1199.2" cy="723.9" r="4" fill="#2eabfb" stroke="#fff" stroke-width="1"/>
<circle cx="1217.8" cy="723.9" r="4" fill="#2eabfb" stroke="#fff" stroke-width="1"/>
<circle cx="1236.4" cy="723.5" r="4" fill="#2eabfb" stroke="#fff" stroke-width="1"/>
<circle cx="1255.1" cy="714.6" r="4" fill="#2eabfb" stroke="#fff" stroke-width="1"/>
<circle cx="1273.7" cy="714.0" r="4" fill="#2eabfb" stroke="#fff" stroke-width="1"/>
<g transform="translate(944.5,820.5)"><rect x="0" y="-1" width="16" height="2" fill="#2eabfb"/><circle cx="8" cy="0" r="4" fill="#2eabfb" stroke="#fff" stroke-width="1"/><text x="21" y="4.3" font-size="12" fill="#333">.300BLK</text></g>
<text x="1283" y="845" font-size="9.5" fill="#999" text-anchor="end">Acgice.com</text>
<g transform="translate(679,866)"><rect x="0" y="0" width="40" height="40" rx="8" fill="#6789d3"/><path d="M9.5 6 L39 16.5 L31 28 L1 17.5 Z" fill="#676453"/><path d="M1 17.5 L31 28 L30.5 35 L1.5 24 Z" fill="#2c2a20"/><path d="M1 17.5 L7 19.6 L7 26.2 L1.5 24 Z" fill="#0e0c08" opacity="0.6"/><path d="M39 16.5 L31 28 L30.5 35 L37.5 23.5 Z" fill="#3a372b"/><path d="M9.5 6.0 L13.6 7.5 L5.1 19.0 L1.0 17.5 Z" fill="#aaa690" opacity="0.9"/><path d="M10.1 12.3 L35.4 21.3 L30.5 28.0 L5.1 19.0 Z" fill="#bdb8a4" opacity="0.95"/><path d="M17.3 10.5 L30.6 15.3 L28.9 17.6 L15.6 12.8 Z" fill="#bdb8a4" opacity="0.35"/><path d="M22.2 20.1 L29.9 22.8 L27.8 25.6 L20.1 22.9 Z" fill="#4a473a" opacity="0.7"/><path d="M10.7 14.4 L19.6 17.6 L19.0 18.4 L10.1 15.2 Z" fill="#4a473a" opacity="0.25"/></g>
<rect x="671" y="921" width="614" height="1" fill="#f2f2f2"/>
<rect x="1177" y="866" width="100" height="24" rx="7" fill="#f52d97"/>
<text x="1227" y="883" font-size="14" fill="#fff" text-anchor="middle">-14.96%</text>
<text x="735" y="880.5" font-size="14" fill="#111">5.7x28mm R37.F</text>
<text x="735" y="899" font-size="12" font-weight="bold" fill="#888">30日前价格：655</text>
<rect x="736" y="940" width="547" height="1" fill="#e6e6e6"/>
<rect x="736" y="1007" width="547" height="1" fill="#e6e6e6"/>
<rect x="736" y="1074" width="547" height="1" fill="#e6e6e6"/>
<rect x="736" y="1141" width="547" height="1" fill="#333"/>
<text x="721" y="1143.8" font-size="12" fill="#333" text-anchor="end">550</text>
<text x="721" y="1077.1" font-size="12" fill="#333" text-anchor="end">600</text>
<text x="721" y="1010.5" font-size="12" fill="#333" text-anchor="end">650</text>
<text x="721" y="943.8" font-size="12" fill="#333" text-anchor="end">700</text>
<text x="745.4" y="1167.5" font-size="13" fill="#333" text-anchor="middle">三</text>
<text x="783.2" y="1167.5" font-size="13" fill="#333" text-anchor="middle">周五</text>
<text x="820.9" y="1167.5" font-size="13" fill="#333" text-anchor="middle">周日</text>
<text x="858.6" y="1167.5" font-size="13" fill="#333" text-anchor="middle">二</text>
<text x="896.3" y="1167.5" font-size="13" fill="#333" text-anchor="middle">四</text>
<text x="934.1" y="1167.5" font-size="13" fill="#333" text-anchor="middle">周六</text>
<text x="971.8" y="1167.5" font-size="13" fill="#333" text-anchor="middle">一</text>
<text x="1009.5" y="1167.5" font-size="13" fill="#333" text-anchor="middle">三</text>
<text x="1047.2" y="1167.5" font-size="13" fill="#333" text-anchor="middle">周五</text>
<text x="1084.9" y="1167.5" font-size="13" fill="#333" text-anchor="middle">周日</text>
<text x="1122.7" y="1167.5" font-size="13" fill="#333" text-anchor="middle">二</text>
<text x="1160.4" y="1167.5" font-size="13" fill="#333" text-anchor="middle">四</text>
<text x="1198.1" y="1167.5" font-size="13" fill="#333" text-anchor="middle">周六</text>
<text x="1235.8" y="1167.5" font-size="13" fill="#333" text-anchor="middle">一</text>
<text x="1273.6" y="1167.5" font-size="13" fill="#333" text-anchor="middle">三</text>
<text x="0" y="0" font-size="13" fill="#555" text-anchor="middle" transform="translate(689.8,1040) rotate(-90)">价格</text>
<polyline fill="none" stroke="#2eabfb" stroke-width="2" stroke-linejoin="round" points="745.4,1000.8 764.3,961.9 783.2,964.6 802.0,975.3 820.9,960.6 839.7,964.6 858.6,1016.8 877.5,1054.3 896.3,1074.4 915.2,1069.1 934.1,1059.7 952.9,964.6 971.8,967.3 990.6,1074.4 1009.5,1099.9 1028.4,1099.9 1047.2,1074.4 1066.1,1077.1 1084.9,994.1 1103.8,971.3 1122.7,1081.1 1141.5,1114.6 1160.4,1102.5 1179.3,1101.2 1198.1,1075.8 1217.0,990.1 1235.8,965.9 1254.7,970.0 1273.6,1114.6"/>
<circle cx="745.4" cy="1000.8" r="4" fill="#2eabfb" stroke="#fff" stroke-width="1"/>
<circle cx="764.3" cy="961.9" r="4" fill="#2eabfb" stroke="#fff" stroke-width="1"/>
<circle cx="783.2" cy="964.6" r="4" fill="#2eabfb" stroke="#fff" stroke-width="1"/>
<circle cx="802.0" cy="975.3" r="4" fill="#2eabfb" stroke="#fff" stroke-width="1"/>
<circle cx="820.9" cy="960.6" r="4" fill="#2eabfb" stroke="#fff" stroke-width="1"/>
<circle cx="839.7" cy="964.6" r="4" fill="#2eabfb" stroke="#fff" stroke-width="1"/>
<circle cx="858.6" cy="1016.8" r="4" fill="#2eabfb" stroke="#fff" stroke-width="1"/>
<circle cx="877.5" cy="1054.3" r="4" fill="#2eabfb" stroke="#fff" stroke-width="1"/>
<circle cx="896.3" cy="1074.4" r="4" fill="#2eabfb" stroke="#fff" stroke-width="1"/>
<circle cx="915.2" cy="1069.1" r="4" fill="#2eabfb" stroke="#fff" stroke-width="1"/>
<circle cx="934.1" cy="1059.7" r="4" fill="#2eabfb" stroke="#fff" stroke-width="1"/>
<circle cx="952.9" cy="964.6" r="4" fill="#2eabfb" stroke="#fff" stroke-width="1"/>
<circle cx="971.8" cy="967.3" r="4" fill="#2eabfb" stroke="#fff" stroke-width="1"/>
<circle cx="990.6" cy="1074.4" r="4" fill="#2eabfb" stroke="#fff" stroke-width="1"/>
<circle cx="1009.5" cy="1099.9" r="4" fill="#2eabfb" stroke="#fff" stroke-width="1"/>
<circle cx="1028.4" cy="1099.9" r="4" fill="#2eabfb" stroke="#fff" stroke-width="1"/>
<circle cx="1047.2" cy="1074.4" r="4" fill="#2eabfb" stroke="#fff" stroke-width="1"/>
<circle cx="1066.1" cy="1077.1" r="4" fill="#2eabfb" stroke="#fff" stroke-width="1"/>
<circle cx="1084.9" cy="994.1" r="4" fill="#2eabfb" stroke="#fff" stroke-width="1"/>
<circle cx="1103.8" cy="971.3" r="4" fill="#2eabfb" stroke="#fff" stroke-width="1"/>
<circle cx="1122.7" cy="1081.1" r="4" fill="#2eabfb" stroke="#fff" stroke-width="1"/>
<circle cx="1141.5" cy="1114.6" r="4" fill="#2eabfb" stroke="#fff" stroke-width="1"/>
<circle cx="1160.4" cy="1102.5" r="4" fill="#2eabfb" stroke="#fff" stroke-width="1"/>
<circle cx="1179.3" cy="1101.2" r="4" fill="#2eabfb" stroke="#fff" stroke-width="1"/>
<circle cx="1198.1" cy="1075.8" r="4" fill="#2eabfb" stroke="#fff" stroke-width="1"/>
<circle cx="1217.0" cy="990.1" r="4" fill="#2eabfb" stroke="#fff" stroke-width="1"/>
<circle cx="1235.8" cy="965.9" r="4" fill="#2eabfb" stroke="#fff" stroke-width="1"/>
<circle cx="1254.7" cy="970.0" r="4" fill="#2eabfb" stroke="#fff" stroke-width="1"/>
<circle cx="1273.6" cy="1114.6" r="4" fill="#2eabfb" stroke="#fff" stroke-width="1"/>
<g transform="translate(921.5,1200.5)"><rect x="0" y="-1" width="16" height="2" fill="#2eabfb"/><circle cx="8" cy="0" r="4" fill="#2eabfb" stroke="#fff" stroke-width="1"/><text x="21" y="4.3" font-size="12" fill="#333">5.7x28mm R37.F</text></g>
<text x="1283" y="1225" font-size="9.5" fill="#999" text-anchor="end">Acgice.com</text>
<g><path d="M1112.5 1147 Q1112.5 1144 1116 1142 L1128 1136 L1128 1132 L1145 1141 L1150 1143.5 Q1153.8 1145.5 1153.8 1149 L1153.8 1168 L1145.8 1172.5 L1145.8 1175 L1137 1183 L1116 1171 Q1112.5 1169 1112.5 1166 Z" fill="#fff" fill-opacity="0.55" stroke="#000" stroke-opacity="0.07" stroke-width="1.2" stroke-linejoin="round"/><path d="M1121 1143 L1121 1160 Q1121 1164 1125 1162 L1137 1156 L1137 1183 M1128 1132 L1128 1150 Q1128 1154 1132 1152 L1137 1149 L1145.8 1153 L1145.8 1172.5" fill="none" stroke="#000" stroke-opacity="0.06" stroke-width="1.2" stroke-linejoin="round"/><text x="1219" y="1172" font-size="32" font-weight="bold" text-anchor="middle" fill="none" stroke="#000" stroke-opacity="0.09" stroke-width="2">小黑盒</text><text x="1219" y="1172" font-size="32" font-weight="bold" text-anchor="middle" fill="#fff" fill-opacity="0.85">小黑盒</text></g>
</svg>
</body></html>
